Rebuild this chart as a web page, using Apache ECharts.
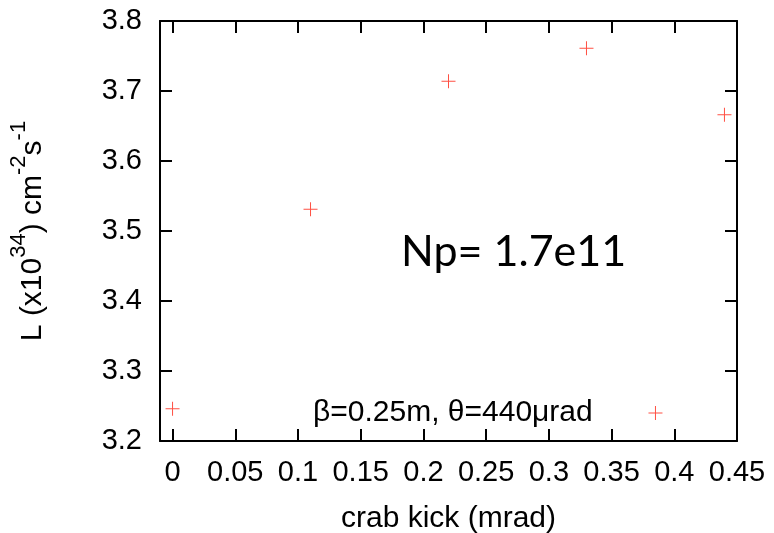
<!DOCTYPE html>
<html>
<head>
<meta charset="utf-8">
<script src="https://cdn.jsdelivr.net/npm/echarts@6/dist/echarts.min.js"></script>
<style>
  html, body { margin: 0; padding: 0; background: #fff; }
  #chart { width: 774px; height: 533px; }
</style>
</head>
<body>
<div id="chart"></div>
<script>
// Luminosity vs crab kick, Np = 1.7e11
const crabKick = [0, 0.11, 0.22, 0.33, 0.385, 0.44];
const luminosity = [3.246, 3.531, 3.714, 3.761, 3.240, 3.666];
const xTicks = [0, 0.05, 0.1, 0.15, 0.2, 0.25, 0.3, 0.35, 0.4, 0.45];

const FONT = '"Liberation Sans", Arial, Helvetica, sans-serif';
const plus = 'path://M6.5,0h1v6.5h6.5v1h-6.5v6.5h-1v-6.5h-6.5v-1h6.5z';

const chart = echarts.init(document.getElementById('chart'), null, { renderer: 'canvas' });

const axisLine = { show: true, onZero: false, lineStyle: { color: '#000', width: 2 } };
const tick = { show: true, inside: true, length: 12, lineStyle: { color: '#000', width: 2 } };

chart.setOption({
  animation: false,
  backgroundColor: '#fff',
  grid: { left: 160, right: 37, top: 21, bottom: 92, containLabel: false, outerBoundsMode: 'none' },
  xAxis: [
    {
      type: 'value', min: -0.01, max: 0.45,
      position: 'bottom',
      axisLine: axisLine,
      axisTick: Object.assign({}, tick, { customValues: xTicks }),
      axisLabel: {
        customValues: xTicks, margin: 17, color: '#000',
        fontFamily: FONT, fontSize: 29,
        formatter: v => String(Number(v.toFixed(2)))
      },
      splitLine: { show: false },
      name: 'crab kick (mrad)', nameLocation: 'middle', nameGap: 63,
      nameTextStyle: { color: '#000', fontFamily: FONT, fontSize: 30 }
    },
    {
      type: 'value', min: -0.01, max: 0.45,
      position: 'top',
      axisLine: axisLine,
      axisTick: Object.assign({}, tick, { customValues: xTicks }),
      axisLabel: { show: false },
      splitLine: { show: false }
    }
  ],
  yAxis: [
    {
      type: 'value', min: 3.2, max: 3.8, interval: 0.1,
      position: 'left',
      axisLine: axisLine,
      axisTick: tick,
      axisLabel: {
        margin: 18, color: '#000', fontFamily: FONT, fontSize: 29,
        formatter: v => v.toFixed(1)
      },
      splitLine: { show: false },
      name: '{a|L (x10}{s|34}{a|) cm}{s|-2}{a|s}{s|-1}',
      nameLocation: 'middle', nameRotate: 90, nameGap: 112,
      nameTextStyle: {
        color: '#000', fontFamily: FONT,
        rich: {
          a: { fontFamily: FONT, fontSize: 30, lineHeight: 40, verticalAlign: 'bottom', color: '#000' },
          s: { fontFamily: FONT, fontSize: 22, lineHeight: 22, verticalAlign: 'top', color: '#000' }
        }
      }
    },
    {
      type: 'value', min: 3.2, max: 3.8, interval: 0.1,
      position: 'right',
      axisLine: axisLine,
      axisTick: tick,
      axisLabel: { show: false },
      splitLine: { show: false }
    }
  ],
  graphic: [
    {
      type: 'text', left: 401, top: 231,
      style: { text: 'Np= 1.7e11', fill: '#000', font: '43px Lato, "Open Sans", sans-serif' }
    },
    {
      type: 'text', left: 313, top: 398,
      style: { text: 'β=0.25m, θ=440μrad', fill: '#000', font: '30px "Liberation Sans", Arial, sans-serif' }
    }
  ],
  series: [
    {
      type: 'scatter',
      data: crabKick.map((x, i) => [x, luminosity[i]]),
      symbol: plus,
      symbolSize: 14,
      itemStyle: { color: '#ff2414' },
      silent: true
    }
  ]
});
</script>
</body>
</html>
